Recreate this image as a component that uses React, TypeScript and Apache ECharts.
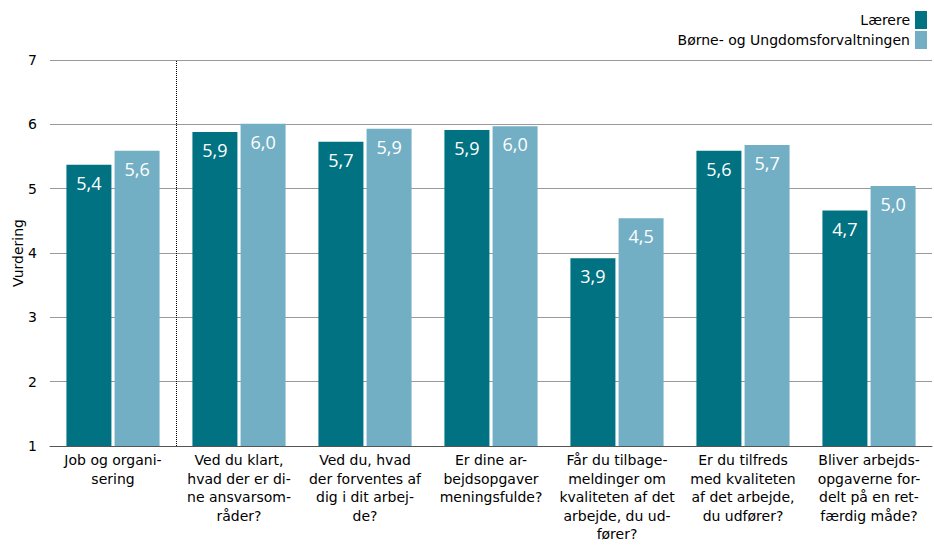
import React, { useEffect, useRef } from "react";
import * as echarts from "echarts";

const categories: string[][] = [
  ["Job og organi-", "sering"],
  ["Ved du klart,", "hvad der er di-", "ne ansvarsom-", "råder?"],
  ["Ved du, hvad", "der forventes af", "dig i dit arbej-", "de?"],
  ["Er dine ar-", "bejdsopgaver", "meningsfulde?"],
  ["Får du tilbage-", "meldinger om", "kvaliteten af det", "arbejde, du ud-", "fører?"],
  ["Er du tilfreds", "med kvaliteten", "af det arbejde,", "du udfører?"],
  ["Bliver arbejds-", "opgaverne for-", "delt på en ret-", "færdig måde?"],
];
const seriesNames = ["Lærere", "Børne- og Ungdomsforvaltningen"];
const laerere = [5.37, 5.88, 5.73, 5.91, 3.92, 5.59, 4.66];
const buf = [5.59, 6.01, 5.93, 5.97, 4.54, 5.68, 5.04];
const yMin = 1;
const yMax = 7;
const yInterval = 1;
const yName = "Vurdering";
const separatorAfter = 1; // dotted separator after first category

const FONT = "'DejaVu Sans', Verdana, sans-serif";
const LABEL_FONT = "'Open Sans', 'Noto Sans', sans-serif";

export default function App() {
  const ref = useRef<HTMLDivElement>(null);
  useEffect(() => {
    if (!ref.current) return;
    const chart = echarts.init(ref.current, null, { renderer: "svg" });
    const label = {
      show: true,
      position: "insideTop" as const,
      distance: 9,
      color: "#ffffff",
      fontFamily: LABEL_FONT,
      fontSize: 18,
      formatter: (p: any) => Number(p.value).toFixed(1).replace(".", ","),
    };
    chart.setOption({
      animation: false,
      textStyle: { fontFamily: FONT },
      grid: { left: 50, right: 2, top: 60, bottom: 99, containLabel: false, outerBoundsMode: "none" },
      legend: {
        orient: "vertical",
        right: 2,
        top: 6,
        align: "right",
        itemWidth: 12,
        itemHeight: 18,
        itemGap: 2,
        icon: "rect",
        textStyle: { fontFamily: FONT, fontSize: 14, color: "#000", lineHeight: 16 },
        data: seriesNames,
      },
      xAxis: [
        {
          type: "category",
          data: categories.map((c) => c.join("\n")),
          axisLine: { show: true, lineStyle: { color: "#555", width: 1 } },
          axisTick: { show: false },
          axisLabel: {
            interval: 0,
            margin: 5,
            fontFamily: FONT,
            fontSize: 14,
            lineHeight: 18.5,
            color: "#000",
            verticalAlign: "top",
          },
          splitLine: { show: false },
        },
        {
          type: "value",
          min: 0,
          max: categories.length,
          show: false,
          splitLine: { show: false },
        },
      ],
      yAxis: {
        type: "value",
        min: yMin,
        max: yMax,
        interval: yInterval,
        name: yName,
        nameLocation: "middle",
        nameGap: 25,
        nameMoveOverlap: false,
        nameTextStyle: { fontFamily: FONT, fontSize: 14, color: "#000" },
        axisLine: { show: false },
        axisTick: { show: false },
        axisLabel: { fontFamily: FONT, fontSize: 14, color: "#000", margin: 13 },
        splitLine: { lineStyle: { color: "#9a9a9a", width: 1 } },
      },
      series: [
        {
          name: seriesNames[0],
          type: "bar",
          data: laerere,
          barWidth: 45,
          barGap: "7%",
          itemStyle: { color: "#007282" },
          label,
        },
        {
          name: seriesNames[1],
          type: "bar",
          data: buf,
          barWidth: 45,
          barGap: "7%",
          itemStyle: { color: "#72afc4" },
          label,
        },
        {
          name: "separator",
          type: "line",
          xAxisIndex: 1,
          data: [],
          silent: true,
          markLine: {
            silent: true,
            symbol: "none",
            label: { show: false },
            lineStyle: { type: "dotted", color: "#000", width: 1 },
            data: [{ xAxis: separatorAfter }],
          },
        },
      ],
    });
    return () => chart.dispose();
  }, []);
  return (
    <div
      ref={ref}
      style={{ position: "absolute", left: 0, top: 0, width: 934, height: 545, background: "#fff" }}
    />
  );
}
